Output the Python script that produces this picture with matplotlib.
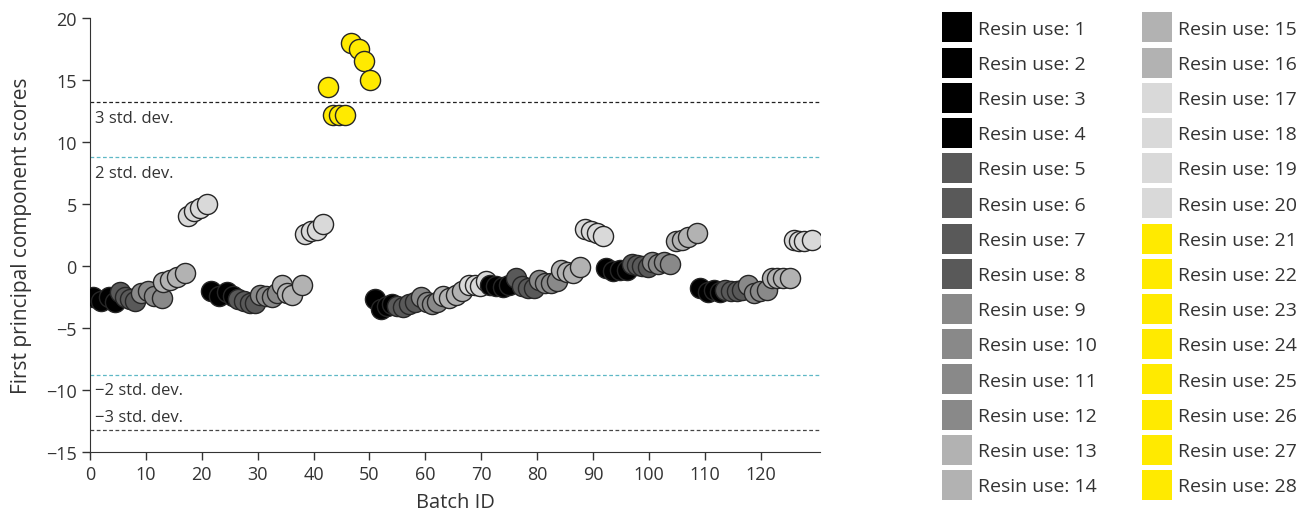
import numpy as np
import matplotlib
matplotlib.use("Agg")
from matplotlib import pyplot as plt
from matplotlib.patches import Patch

plt.rcParams['font.family'] = ['Open Sans', 'DejaVu Sans']

# PC1 score per batch, grouped by resin campaign (in batch order)
batch_id = [
    0.6, 2.0, 3.4, 4.5, 5.4, 6.3, 7.2, 8.0, 9.2, 10.4, 11.4, 12.8,
    13.1, 14.3, 15.5, 17.0, 17.5, 18.6, 19.7, 20.9,
    21.6, 23.0, 24.5, 25.6, 26.5, 27.5, 28.6, 29.5, 30.4, 31.5, 32.6, 33.5,
    34.3, 35.2, 36.1, 37.9, 38.5, 39.5, 40.6, 41.7,
    42.6, 43.4, 44.5, 45.7, 46.7, 48.2, 49.0, 50.1,
    51.0, 52.1, 53.2, 54.0, 54.9, 56.0, 57.1, 58.1, 59.2, 60.3, 61.2, 62.1,
    63.1, 64.2, 65.5, 66.5, 67.8, 68.9, 69.8, 70.8,
    71.6, 72.6, 73.9, 75.0, 76.2, 77.3, 78.4, 79.4, 80.3, 81.4, 82.5, 83.5,
    84.3, 85.3, 86.4, 87.7, 88.6, 89.6, 90.7, 91.8,
    92.3, 93.6, 94.8, 96.1, 97.0, 97.9, 98.7, 99.8, 100.5, 101.6, 102.7, 103.8,
    104.8, 105.9, 107.0, 108.6,
    109.1, 110.5, 111.6, 112.7, 113.6, 114.7, 115.7, 116.6, 117.7, 118.8, 119.9, 121.1,
    122.0, 122.9, 124.0, 125.2, 125.9, 126.8, 127.7, 129.2,
]
pc1_score = [
    -2.5, -2.8, -2.5, -2.9, -2.1, -2.5, -2.7, -2.8, -2.2, -2.0, -2.4, -2.6,
    -1.3, -1.1, -0.85, -0.6, 4.07, 4.4, 4.7, 5.0,
    -2.0, -2.4, -2.1, -2.4, -2.7, -2.8, -2.95, -3.0, -2.3, -2.4, -2.5, -2.2,
    -1.5, -2.2, -2.3, -1.5, 2.6, 2.8, 2.9, 3.4,
    14.45, 12.15, 12.15, 12.15, 18.0, 17.5, 16.5, 15.0,
    -2.7, -3.5, -3.2, -3.1, -3.2, -3.3, -3.1, -2.9, -2.5, -2.9, -3.1, -2.9,
    -2.4, -2.6, -2.3, -2.0, -1.5, -1.5, -1.6, -1.2,
    -1.5, -1.6, -1.7, -1.5, -1.0, -1.6, -1.75, -1.75, -1.1, -1.35, -1.35, -1.25,
    -0.35, -0.45, -0.55, -0.05, 3.0, 2.8, 2.7, 2.45,
    -0.15, -0.4, -0.3, -0.3, 0.2, 0.05, 0.0, -0.1, 0.3, 0.2, 0.3, 0.2,
    2.0, 2.1, 2.3, 2.7,
    -1.75, -2.1, -1.9, -2.1, -1.9, -2.0, -2.0, -1.9, -1.5, -2.2, -2.0, -1.9,
    -0.95, -0.95, -0.95, -0.95, 2.1, 2.05, 2.05, 2.1,
]
# how many times the resin had been used for each batch
campaign_lengths = [20, 28, 20, 20, 16, 20]
resin_use = [u for n in campaign_lengths for u in range(1, n + 1)]

sd2 = 8.8
sd3 = 13.2

# colour per resin use (1..28)
resin_colors = (['#000000'] * 4 + ['#595959'] * 4 + ['#898989'] * 4 +
                ['#b2b2b2'] * 4 + ['#d9d9d9'] * 4 + ['#ffea00'] * 8)

fig = plt.figure(figsize=(13.06, 5.10), dpi=100)
ax = fig.add_axes([0.0689, 0.1118, 0.5590, 0.8509])

for b, s, u in zip(batch_id, pc1_score, resin_use):
    ax.scatter(b, s, s=210, color=resin_colors[u - 1], edgecolor='#262626',
               linewidth=1.0, zorder=3)

ax.axhline(sd3, color='#222222', linestyle=(0, (3, 2)), linewidth=0.9, zorder=1)
ax.axhline(-sd3, color='#444444', linestyle=(0, (3, 2)), linewidth=0.9, zorder=1)
ax.axhline(sd2, color='#5fb8c6', linestyle=(0, (3, 2)), linewidth=0.9, zorder=1)
ax.axhline(-sd2, color='#5fb8c6', linestyle=(0, (3, 2)), linewidth=0.9, zorder=1)

lbl = dict(fontsize=12, color='#333333', ha='left', va='center')
ax.text(0.9, sd3 - 1.3, '3 std. dev.', **lbl)
ax.text(0.9, sd2 - 1.3, '2 std. dev.', **lbl)
ax.text(0.9, -sd2 - 1.2, '\u22122 std. dev.', **lbl)
ax.text(0.9, -sd3 + 1.0, '\u22123 std. dev.', **lbl)

ax.set_xlim(0, 130.6)
ax.set_ylim(-15, 20)
ax.set_xticks(np.arange(0, 121, 10))
ax.set_yticks(np.arange(-15, 21, 5))
ax.tick_params(labelsize=13, colors='#333333', length=6, width=1)
ax.spines['top'].set_visible(False)
ax.spines['right'].set_visible(False)
for side in ('left', 'bottom'):
    ax.spines[side].set_color('#333333')
ax.set_xlabel('Batch ID', fontsize=14.5, color='#333333', labelpad=6)
ax.set_ylabel('First principal component scores', fontsize=15, color='#333333', labelpad=10)

handles = [Patch(facecolor=resin_colors[i], edgecolor='none') for i in range(28)]
labels = ['Resin use: %d' % (i + 1) for i in range(28)]
fig.legend(handles, labels, loc='upper left', bbox_to_anchor=(0.7155, 0.989),
           ncol=2, frameon=False, fontsize=14, labelcolor='#333333',
           handlelength=1.55, handleheight=2.0, labelspacing=0.265,
           handletextpad=0.3, columnspacing=2.3, borderaxespad=0)

fig.savefig('out.png', dpi=100)
